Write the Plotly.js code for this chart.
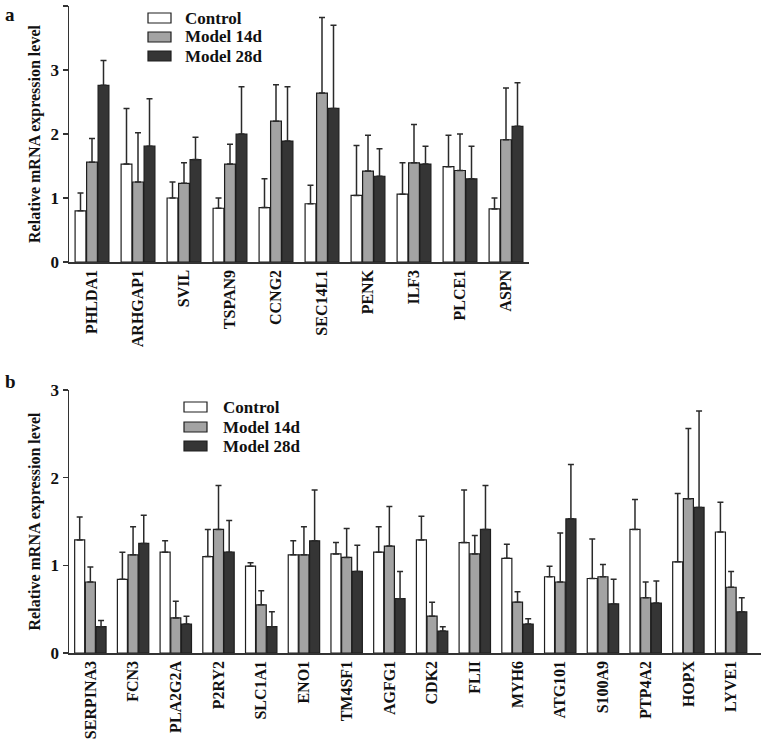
<!DOCTYPE html>
<html>
<head>
<meta charset="utf-8">
<script src="https://cdn.plot.ly/plotly-3.0.1.min.js"></script>
<style>html,body{margin:0;padding:0;background:#fff;}#chart{width:761px;height:740px;}</style>
</head>
<body>
<div id="chart"></div>
<script>
// ---------- Panel a data ----------
var genesA = ["PHLDA1","ARHGAP1","SVIL","TSPAN9","CCNG2","SEC14L1","PENK","ILF3","PLCE1","ASPN"];
var ctrlA    = [0.80, 1.53, 1.00, 0.84, 0.85, 0.91, 1.04, 1.06, 1.49, 0.83];
var ctrlAErr = [0.28, 0.87, 0.25, 0.16, 0.45, 0.29, 0.78, 0.49, 0.49, 0.17];
var m14A     = [1.56, 1.25, 1.23, 1.53, 2.20, 2.64, 1.42, 1.55, 1.43, 1.91];
var m14AErr  = [0.37, 0.77, 0.32, 0.31, 0.57, 1.18, 0.56, 0.60, 0.57, 0.81];
var m28A     = [2.76, 1.81, 1.60, 2.00, 1.89, 2.40, 1.34, 1.53, 1.30, 2.12];
var m28AErr  = [0.39, 0.74, 0.35, 0.74, 0.85, 1.30, 0.43, 0.28, 0.51, 0.68];
var yTicksA  = [0, 1, 2, 3, 4];

// ---------- Panel b data ----------
var genesB = ["SERPINA3","FCN3","PLA2G2A","P2RY2","SLC1A1","ENO1","TM4SF1","AGFG1","CDK2","FLII","MYH6","ATG101","S100A9","PTP4A2","HOPX","LYVE1"];
var ctrlB    = [1.29, 0.84, 1.15, 1.10, 0.99, 1.12, 1.13, 1.15, 1.29, 1.26, 1.08, 0.87, 0.85, 1.41, 1.04, 1.38];
var ctrlBErr = [0.26, 0.31, 0.13, 0.31, 0.04, 0.16, 0.13, 0.29, 0.27, 0.60, 0.16, 0.12, 0.45, 0.34, 0.78, 0.34];
var m14B     = [0.81, 1.12, 0.40, 1.41, 0.55, 1.12, 1.09, 1.22, 0.42, 1.13, 0.58, 0.81, 0.87, 0.63, 1.76, 0.75];
var m14BErr  = [0.17, 0.32, 0.19, 0.50, 0.16, 0.32, 0.33, 0.45, 0.16, 0.21, 0.12, 0.56, 0.14, 0.18, 0.80, 0.18];
var m28B     = [0.30, 1.25, 0.33, 1.15, 0.30, 1.28, 0.93, 0.62, 0.25, 1.41, 0.33, 1.53, 0.56, 0.57, 1.66, 0.47];
var m28BErr  = [0.07, 0.32, 0.09, 0.36, 0.17, 0.58, 0.30, 0.31, 0.05, 0.50, 0.06, 0.62, 0.28, 0.25, 1.10, 0.16];
var yTicksB  = [0, 1, 2, 3];

var seriesNames = ["Control", "Model 14d", "Model 28d"];

// ---------- styling ----------
var FONT = "Liberation Serif, Times New Roman, serif";
var fills = ["#ffffff", "#a3a3a3", "#353535"];
var edge = "#1e1e1e";

function zeros(n){ var a=[]; for(var i=0;i<n;i++) a.push(0); return a; }

function barTrace(x, y, err, idx, xa, ya){
  return {
    type: "bar", x: x, y: y, name: seriesNames[idx],
    xaxis: xa, yaxis: ya, showlegend: false,
    marker: {color: fills[idx], line: {color: edge, width: 1.2}},
    error_y: {type: "data", array: err, arrayminus: zeros(err.length), symmetric: false,
              color: "#2a2a2a", thickness: 1.5, width: 3},
    hoverinfo: "skip"
  };
}

var data = [
  barTrace(genesA, ctrlA, ctrlAErr, 0, "x", "y"),
  barTrace(genesA, m14A,  m14AErr,  1, "x", "y"),
  barTrace(genesA, m28A,  m28AErr,  2, "x", "y"),
  barTrace(genesB, ctrlB, ctrlBErr, 0, "x2", "y2"),
  barTrace(genesB, m14B,  m14BErr,  1, "x2", "y2"),
  barTrace(genesB, m28B,  m28BErr,  2, "x2", "y2")
];

var W = 761, H = 740;
var ml = 69, mr = 0, mt = 6, mb = 87;
var pw = W - ml - mr, ph = H - mt - mb;
function px(x){ return (x - ml) / pw; }
function py(y){ return 1 - (y - mt) / ph; }

function xAxis(domainEnd, range, anchor){
  return {
    domain: [0, domainEnd], anchor: anchor, type: "category", range: range,
    showline: true, linecolor: "#333", linewidth: 1.5, ticks: "", showgrid: false,
    zeroline: false, tickangle: -90, fixedrange: true,
    tickfont: {family: FONT, size: 16, color: "#111", weight: "bold"}
  };
}
function yAxis(domain, range, tickvals, anchor){
  return {
    domain: domain, anchor: anchor, range: range, tickvals: tickvals,
    showline: true, linecolor: "#333", linewidth: 1.5, ticks: "outside", ticklen: 5,
    tickwidth: 1.5, tickcolor: "#333", showgrid: false, zeroline: false, fixedrange: true,
    tickfont: {family: FONT, size: 17, color: "#111", weight: "bold"},
    title: {text: "Relative mRNA expression level", standoff: 6,
            font: {family: FONT, size: 16, color: "#111", weight: "bold"}}
  };
}

// manual legends (box 23x10 + label)
var shapes = [], annotations = [];
function addLegend(boxX, textX, rowYs){
  for (var i = 0; i < 3; i++){
    shapes.push({type: "rect", xref: "paper", yref: "paper",
      x0: px(boxX), x1: px(boxX + 23), y0: py(rowYs[i] + 5), y1: py(rowYs[i] - 5),
      fillcolor: fills[i], line: {color: edge, width: 1.2}});
    annotations.push({text: seriesNames[i], xref: "paper", yref: "paper",
      x: px(textX), y: py(rowYs[i]), xanchor: "left", yanchor: "middle", showarrow: false,
      font: {family: FONT, size: 17, color: "#111", weight: "bold"}});
  }
}
addLegend(148, 183, [18, 37, 56]);
addLegend(184, 221, [407, 427, 446]);

annotations.push({text: "a", xref: "paper", yref: "paper", x: px(3), y: py(2), xanchor: "left", yanchor: "top",
  showarrow: false, font: {family: FONT, size: 19, color: "#111", weight: "bold"}});
annotations.push({text: "b", xref: "paper", yref: "paper", x: px(3), y: py(369), xanchor: "left", yanchor: "top",
  showarrow: false, font: {family: FONT, size: 19, color: "#111", weight: "bold"}});

var layout = {
  width: W, height: H,
  margin: {l: ml, r: mr, t: mt, b: mb},
  paper_bgcolor: "#fff", plot_bgcolor: "#fff",
  barmode: "group", bargap: 0.25, bargroupgap: 0.06,
  font: {family: FONT, color: "#111"},
  showlegend: false,
  xaxis: xAxis(460/pw, [-0.5, 9.5], "y"),
  yaxis: yAxis([py(262), py(6)], [0, 4], yTicksA, "x"),
  xaxis2: xAxis(1, [-0.5, 15.7], "y2"),
  yaxis2: yAxis([0, py(390)], [0, 3], yTicksB, "x2"),
  shapes: shapes,
  annotations: annotations
};

Plotly.newPlot("chart", data, layout, {displayModeBar: false, staticPlot: true});
</script>
</body>
</html>
